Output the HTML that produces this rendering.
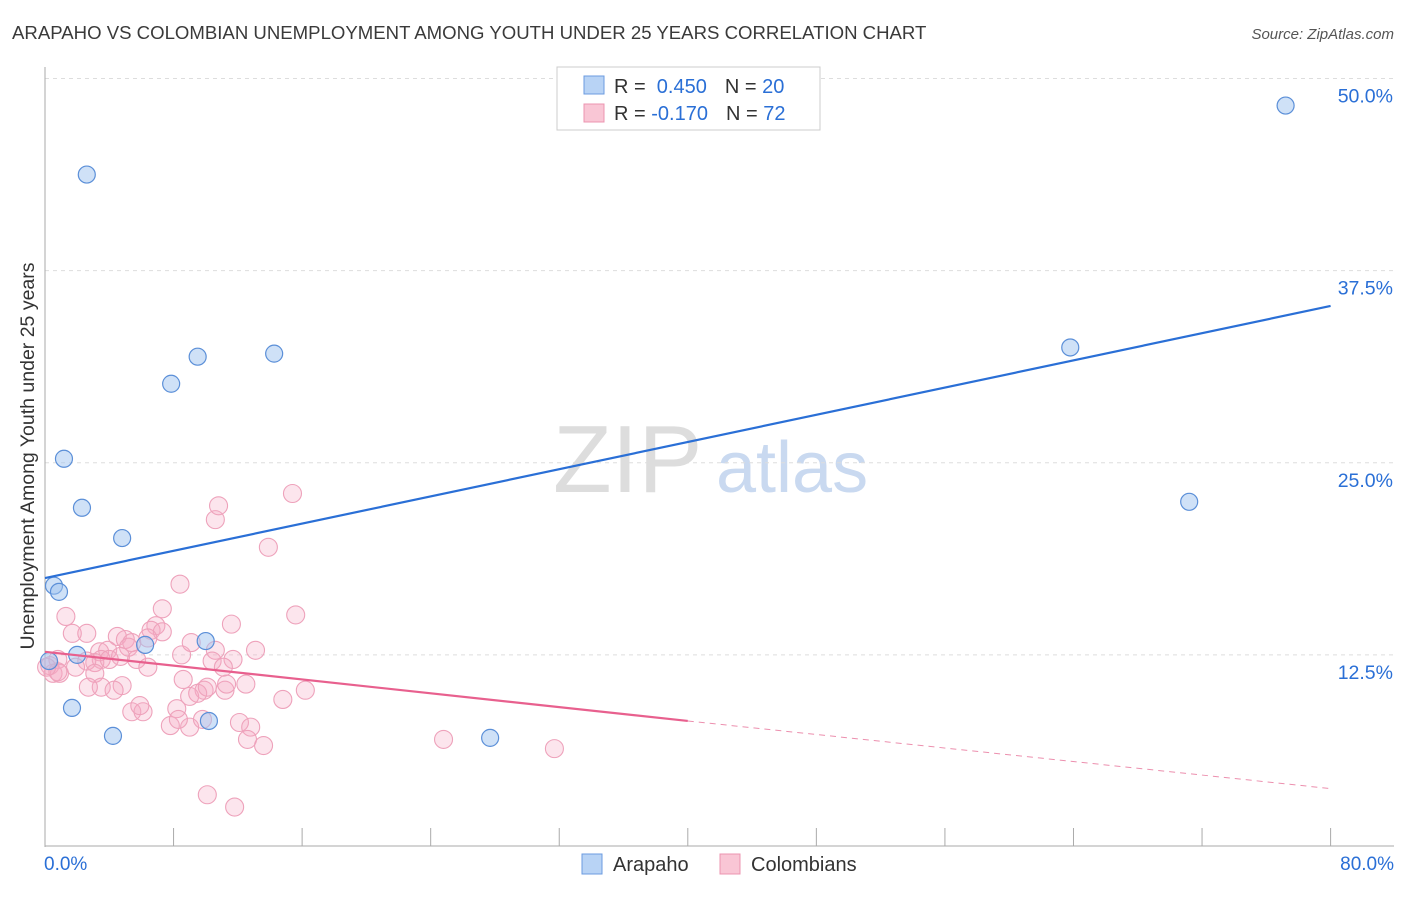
<!DOCTYPE html>
<html><head><meta charset="utf-8"><style>
body{margin:0;background:#fff;font-family:"Liberation Sans",sans-serif;}
svg text{font-family:"Liberation Sans",sans-serif;}
</style></head><body>
<svg id="c" width="1406" height="892">
<text x="12" y="39" font-size="18.6" fill="#3a3a3a">ARAPAHO VS COLOMBIAN UNEMPLOYMENT AMONG YOUTH UNDER 25 YEARS CORRELATION CHART</text>
<text x="1394" y="39" font-size="15" fill="#555" font-style="italic" text-anchor="end">Source: ZipAtlas.com</text>
<text transform="translate(34,456) rotate(-90)" font-size="19.5" fill="#333" text-anchor="middle">Unemployment Among Youth under 25 years</text>
<g><text x="553" y="492" font-size="96" fill="#ddd" font-family="Liberation Serif,serif">ZIP</text><text x="716" y="492" font-size="72" fill="#c9d9f0">atlas</text></g>
<g id="grid"></g><g id="axes"></g><g id="marks"></g>
<g>
<rect x="557" y="67" width="263" height="63" fill="#fff" stroke="#ccc"/>
<rect x="584" y="76" width="20" height="18" fill="#b8d3f5" stroke="#6b9be0"/>
<rect x="584" y="104" width="20" height="18" fill="#f9c6d5" stroke="#ec94b0"/>
<text x="614" y="93" font-size="20" fill="#333">R = <tspan fill="#2a6fd6">&#160;0.450</tspan><tspan dx="18" fill="#333">N = </tspan><tspan fill="#2a6fd6">20</tspan></text>
<text x="614" y="120" font-size="20" fill="#333">R = <tspan fill="#2a6fd6">-0.170</tspan><tspan dx="18" fill="#333">N = </tspan><tspan fill="#2a6fd6">72</tspan></text>
</g>
<g>
<rect x="582" y="854" width="20" height="20" fill="#b8d3f5" stroke="#6b9be0"/>
<text x="613" y="871" font-size="20" fill="#333">Arapaho</text>
<rect x="720" y="854" width="20" height="20" fill="#f9c6d5" stroke="#ec94b0"/>
<text x="751" y="871" font-size="20" fill="#333">Colombians</text>
</g>
</svg>
<script>
const yTicks=[12.5,25,37.5,50];
const yTickLabels=["12.5%","25.0%","37.5%","50.0%"];
const xTicks=[0,8,16,24,32,40,48,56,64,72,80];
const xEndLabels=["0.0%","80.0%"];
const arapahoX=[2.6,0.56,0.87,1.18,2.3,4.8,1.68,4.23,7.85,9.5,14.26,6.23,10.0,10.2,2.0,27.7,63.8,71.2,77.2,0.25];
const arapahoY=[43.75,17.0,16.6,25.26,22.07,20.1,9.05,7.23,30.14,31.9,32.1,13.15,13.4,8.2,12.5,7.1,32.5,22.46,48.24,12.1];
const colX=[8.4,1.3,1.7,2.6,3.4,4.5,7.3,6.9,6.6,7.3,5.0,5.4,3.9,5.2,6.4,4.7,5.7,3.5,3.1,2.6,0.8,0.3,0.5,0.9,1.9,3.1,4.0,6.4,8.5,8.6,9.1,10.6,10.4,11.6,15.6,13.1,11.7,9.9,9.0,9.5,10.1,11.2,8.2,4.8,3.5,2.7,4.3,5.4,6.1,5.9,7.8,9.0,8.3,9.8,12.1,12.8,12.6,13.6,12.5,14.8,16.2,11.3,11.1,10.1,11.8,10.6,10.8,13.9,15.4,24.8,31.7,0.8,0.1];
const colY=[17.1,15.0,13.9,13.9,12.7,13.7,15.5,14.4,14.1,14.0,13.5,13.3,12.8,13.0,13.6,12.4,12.2,12.2,12.0,12.1,12.2,11.8,11.3,11.3,11.7,11.3,12.2,11.7,12.5,10.9,13.3,12.8,12.1,14.5,15.1,12.8,12.2,10.2,9.8,10.0,10.4,10.2,9.0,10.5,10.4,10.4,10.2,8.8,8.8,9.2,7.9,7.8,8.3,8.3,8.1,7.8,7.0,6.6,10.6,9.6,10.2,10.6,11.7,3.4,2.6,21.3,22.2,19.5,23.0,7.0,6.4,11.4,11.7];
const blueTrend=[[0,17.5],[80,35.2]];
const pinkTrendSolid=[[0,12.7],[40,8.2]];
const pinkTrendDash=[[40,8.2],[80,3.8]];
const X=v=>45+v*16.07, Y=v=>847-v*15.37;
const NS="http://www.w3.org/2000/svg";
function mk(p,t,a){const e=document.createElementNS(NS,t);for(const k in a)e.setAttribute(k,a[k]);p.appendChild(e);return e;}
const grid=document.getElementById('grid'),axes=document.getElementById('axes'),marks=document.getElementById('marks');
yTicks.forEach((v,i)=>{
 const l=mk(grid,'line',{x1:45,x2:1394,y1:Y(v),y2:Y(v),stroke:'#ddd','stroke-dasharray':'4,4'});
 
 
 const t=mk(axes,'text',{x:1393,y:Y(v)+24,'font-size':19.5,fill:'#2a6fd6','text-anchor':'end'});t.textContent=yTickLabels[i];
 
 
});
const ax=mk(axes,'line',{x1:45,x2:45,y1:67,y2:847,stroke:'#aaa'});


const bx=mk(axes,'line',{x1:45,x2:1394,y1:846,y2:846,stroke:'#aaa'});


xTicks.forEach(v=>{const l=mk(axes,'line',{x1:X(v),x2:X(v),y1:828,y2:846,stroke:'#aaa'});
 
 });
[[0,'start',44],[80,'end',1394]].forEach((d,i)=>{const t=mk(axes,'text',{x:d[2],y:870,'font-size':19,fill:'#2a6fd6','text-anchor':d[1]});t.textContent=xEndLabels[i];
 
 });
colX.forEach((x,i)=>{const c=mk(marks,'circle',{cx:X(x),cy:Y(colY[i]),r:9,fill:'rgba(246,170,195,0.3)',stroke:'#eea2bb','stroke-width':1.1});
 
 });
arapahoX.forEach((x,i)=>{const c=mk(marks,'circle',{cx:X(x),cy:Y(arapahoY[i]),r:8.5,fill:'rgba(160,196,240,0.5)',stroke:'#5b8fd8','stroke-width':1.2});
 
 });
const bl=mk(marks,'line',{x1:X(blueTrend[0][0]),y1:Y(blueTrend[0][1]),x2:X(blueTrend[1][0]),y2:Y(blueTrend[1][1]),stroke:'#2a6fd6','stroke-width':2.2});


const pl=mk(marks,'line',{x1:X(pinkTrendSolid[0][0]),y1:Y(pinkTrendSolid[0][1]),x2:X(pinkTrendSolid[1][0]),y2:Y(pinkTrendSolid[1][1]),stroke:'#e8608e','stroke-width':2.2});


const pd=mk(marks,'line',{x1:X(pinkTrendDash[0][0]),y1:Y(pinkTrendDash[0][1]),x2:X(pinkTrendDash[1][0]),y2:Y(pinkTrendDash[1][1]),stroke:'#ec8fae','stroke-width':1,'stroke-dasharray':'6,5'});


</script>
</body></html>
